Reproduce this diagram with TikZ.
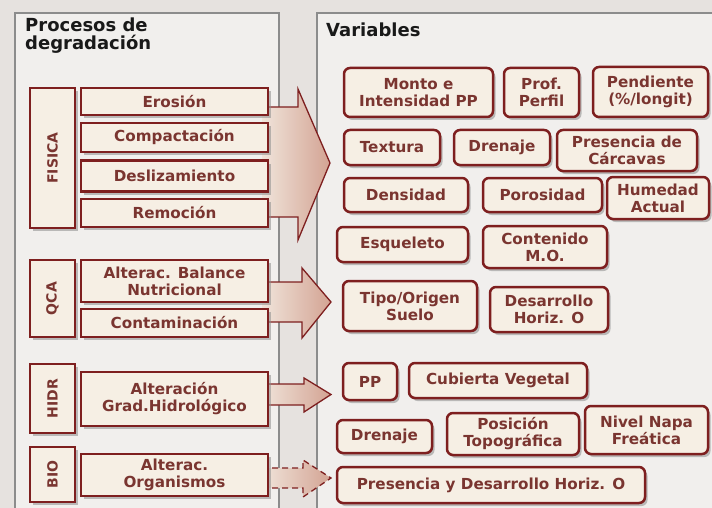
\documentclass[tikz,border=0pt]{standalone}
\usepackage{fontspec}
\setmainfont{DejaVu Sans}
\newfontfamily\titlefont{DejaVu Sans}
\usetikzlibrary{shadows}
\definecolor{dred}{HTML}{7E1F1F}
\definecolor{tred}{HTML}{7A3530}
\definecolor{cream}{HTML}{F6EFE4}
\definecolor{bgc}{HTML}{E6E2DF}
\definecolor{panelc}{HTML}{F1EFED}
\definecolor{panelb}{HTML}{8C8C8C}
\definecolor{arrL}{HTML}{F0E4DA}
\definecolor{arrR}{HTML}{D3A393}
\tikzset{
  boxbase/.style={draw=dred, line width=2.5pt, fill=cream, text=tred,
    font=\fontsize{15.2}{17}\selectfont\bfseries, align=center, inner sep=0pt,
    drop shadow={shadow xshift=2.5pt, shadow yshift=-3pt, fill=black!45, opacity=0.55}},
  lbox/.style={boxbase},
  rbox/.style={boxbase, rounded corners=6pt},
  vlabel/.style={rotate=90, text=tred, font=\fontsize{14}{16}\selectfont\bfseries, inner sep=0pt},
  bigarrow/.style={draw=dred, line width=1.3pt, left color=arrL, right color=arrR, line join=miter},
  title/.style={anchor=base west, inner sep=0pt, text=black!90, font=\titlefont\fontsize{18}{18}\selectfont\bfseries},
  panel/.style={draw=panelb, line width=1.4pt, fill=panelc}
}
\begin{document}
\begin{tikzpicture}[x=1pt,y=-1pt]
\useasboundingbox (0,0) rectangle (712,508);
\fill[bgc] (0,0) rectangle (712,508);
% panels
\draw[panel] (15,13) rectangle (279,512);
\draw[panel] (317,13) rectangle (716,512);
% titles
\node[title] (t1) at (25,32) {Procesos de};
\node[title] (t2) at (25,50) {degradación};
\node[title] (t3) at (326,37) {Variables};
% arrows
\draw[bigarrow] (262,107) -- (298,107) -- (298,89) -- (330,163) -- (298,240) -- (298,217) -- (262,217);
\draw[bigarrow] (262,282) -- (302,282) -- (302,268) -- (331,302) -- (302,338) -- (302,322) -- (262,322);
\draw[bigarrow] (262,384) -- (304,384) -- (304,378) -- (331,394.5) -- (304,412) -- (304,405) -- (262,405);
\draw[bigarrow, dashed, dash pattern=on 6pt off 4pt] (262,468) -- (303,468) -- (303,460) -- (331,478) -- (303,497) -- (303,488) -- (262,488);
% left boxes
\node[lbox, minimum width=45pt, minimum height=140pt] (fis) at (52.5,158) {};
\node[vlabel] (fisl) at (fis) {FISICA};
\node[lbox, minimum width=187pt, minimum height=27pt] (ero) at (174.5,101.5) {Erosión};
\node[lbox, minimum width=187pt, minimum height=29pt] (comp) at (174.5,137.5) {Compactación};
\node[lbox, minimum width=187pt, minimum height=31pt] (desl) at (174.5,176) {Deslizamiento};
\node[lbox, minimum width=187pt, minimum height=28pt] (remo) at (174.5,213) {Remoción};
\node[lbox, minimum width=45pt, minimum height=77pt] (qca) at (52.5,298.5) {};
\node[vlabel] (qcal) at (qca) {QCA};
\node[lbox, minimum width=187pt, minimum height=42pt] (bal) at (174.5,281) {Alterac. Balance\\Nutricional};
\node[lbox, minimum width=187pt, minimum height=28pt] (cont) at (174.5,323) {Contaminación};
\node[lbox, minimum width=45pt, minimum height=69pt] (hidr) at (52.5,398.5) {};
\node[vlabel] (hidrl) at (hidr) {HIDR};
\node[lbox, minimum width=187pt, minimum height=54pt] (grad) at (174.5,399) {Alteración\\Grad.Hidrológico};
\node[lbox, minimum width=45pt, minimum height=55pt] (bio) at (52.5,474.5) {};
\node[vlabel] (biol) at (bio) {BIO};
\node[lbox, minimum width=187pt, minimum height=42pt] (org) at (174.5,475) {Alterac.\\Organismos};
% right boxes
\node[rbox, minimum width=149pt, minimum height=49pt] (monto) at (418.5,92.5) {Monto e\\Intensidad PP};
\node[rbox, minimum width=75pt, minimum height=49pt] (prof) at (541.5,92.5) {Prof.\\Perfil};
\node[rbox, minimum width=115pt, minimum height=50pt] (pend) at (650.5,92) {Pendiente\\(\%/longit)};
\node[rbox, minimum width=96pt, minimum height=35pt] (text) at (392,147.5) {Textura};
\node[rbox, minimum width=96pt, minimum height=35pt] (dren) at (502,147.5) {Drenaje};
\node[rbox, minimum width=140pt, minimum height=41pt] (pres) at (627,150.5) {Presencia de\\Cárcavas};
\node[rbox, minimum width=124pt, minimum height=34pt] (dens) at (406,195) {Densidad};
\node[rbox, minimum width=119pt, minimum height=34pt] (poro) at (542.5,195) {Porosidad};
\node[rbox, minimum width=102pt, minimum height=42pt] (hum) at (658,198) {Humedad\\Actual};
\node[rbox, minimum width=131pt, minimum height=35pt] (esq) at (402.5,244.5) {Esqueleto};
\node[rbox, minimum width=124pt, minimum height=42pt] (mo) at (545,247) {Contenido\\M.O.};
\node[rbox, minimum width=134pt, minimum height=50pt] (tipo) at (410,306) {Tipo/Origen\\Suelo};
\node[rbox, minimum width=118pt, minimum height=45pt] (desa) at (549,309.5) {Desarrollo\\Horiz. O};
\node[rbox, minimum width=54pt, minimum height=37pt] (pp) at (370,381.5) {PP};
\node[rbox, minimum width=178pt, minimum height=35pt] (cub) at (498,380.5) {Cubierta Vegetal};
\node[rbox, minimum width=95pt, minimum height=33pt] (dren2) at (384.5,436.5) {Drenaje};
\node[rbox, minimum width=132pt, minimum height=42pt] (posi) at (513,434) {Posición\\Topográfica};
\node[rbox, minimum width=123pt, minimum height=48pt] (nivel) at (646.5,430) {Nivel Napa\\Freática};
\node[rbox, minimum width=308pt, minimum height=36pt] (presy) at (491,485) {Presencia y Desarrollo Horiz. O};
\end{tikzpicture}
\end{document}
